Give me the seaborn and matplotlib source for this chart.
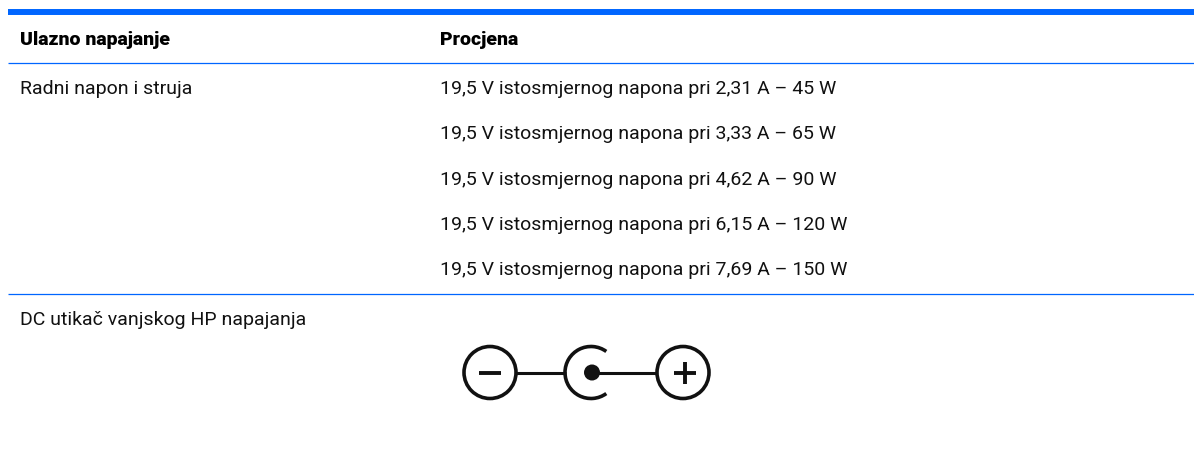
import seaborn as sns
import matplotlib.pyplot as plt
from matplotlib.patches import Circle, Arc

# table content
headers = ['Ulazno napajanje', 'Procjena']
left_labels = ['Radni napon i struja', 'DC utikač vanjskog HP napajanja']
ratings = ['19,5 V istosmjernog napona pri 2,31 A – 45 W',
           '19,5 V istosmjernog napona pri 3,33 A – 65 W',
           '19,5 V istosmjernog napona pri 4,62 A – 90 W',
           '19,5 V istosmjernog napona pri 6,15 A – 120 W',
           '19,5 V istosmjernog napona pri 7,69 A – 150 W']
rating_rows = [89, 134, 180, 225, 270]
left_rows = [89, 320]
thin_rules = [63, 294]

sns.set_theme(style='white')
plt.rcParams['font.family'] = ['Roboto', 'DejaVu Sans']

BLUE = '#0066ff'
FS = 14

fig = plt.figure(figsize=(11.94, 4.58), dpi=100)
ax = fig.add_axes([0, 0, 1, 1])
ax.set_xlim(0, 1194)
ax.set_ylim(458, 0)
ax.axis('off')

# rules
ax.hlines(12, 8, 1194, color=BLUE, linewidth=4.3)
ax.hlines(thin_rules, 8, 1194, color=BLUE, linewidth=0.9)

# header
ax.text(20, 40, headers[0], fontsize=FS, fontweight='black', color='black', va='center')
ax.text(440, 40, headers[1], fontsize=FS, fontweight='black', color='black', va='center')

# rows
for label, y in zip(left_labels, left_rows):
    ax.text(20, y, label, fontsize=FS, color='#111111', va='center')
for label, y in zip(ratings, rating_rows):
    ax.text(440, y, label, fontsize=FS, color='#111111', va='center')

# DC plug polarity symbol
lw = 2.6
cy = 372.5
ax.add_patch(Circle((490, cy), 26, fill=False, edgecolor='#111111', linewidth=lw))
ax.add_patch(Circle((683, cy), 26, fill=False, edgecolor='#111111', linewidth=lw))
ax.add_patch(Arc((591, cy), 52, 52, theta1=54, theta2=306, edgecolor='#111111', linewidth=lw))
ax.add_patch(Circle((592, cy), 8, facecolor='#111111', edgecolor='none'))
ax.hlines(cy, 516, 566, color='#111111', linewidth=2.2)
ax.hlines(cy, 592, 657, color='#111111', linewidth=2.2)
ax.hlines(cy, 479, 501, color='#111111', linewidth=2.8)
ax.hlines(cy, 674, 696, color='#111111', linewidth=2.8)
ax.vlines(685, cy - 11, cy + 11, color='#111111', linewidth=2.8)

fig.savefig('out.png', dpi=100)
